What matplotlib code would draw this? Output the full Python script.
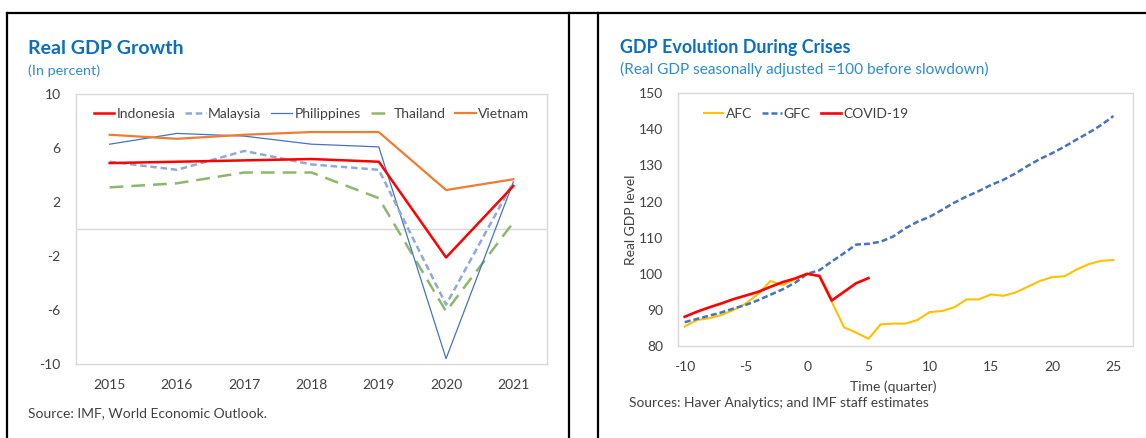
import matplotlib
matplotlib.use("Agg")
import matplotlib.pyplot as plt
from matplotlib.lines import Line2D

# ---------------- data ----------------
years = ["2015", "2016", "2017", "2018", "2019", "2020", "2021"]
indonesia = [4.9, 5.0, 5.1, 5.2, 5.0, -2.1, 3.2]
malaysia = [5.0, 4.4, 5.8, 4.8, 4.4, -5.6, 3.5]
philippines = [6.3, 7.1, 6.9, 6.3, 6.1, -9.6, 3.5]
thailand = [3.1, 3.4, 4.2, 4.2, 2.3, -6.1, 0.5]
vietnam = [7.0, 6.7, 7.0, 7.2, 7.2, 2.9, 3.7]
left_yticks = [-10, -6, -2, 2, 6, 10]

quarters = list(range(-10, 26))
afc = [85.4, 87.2, 87.7, 88.6, 90.0, 91.8, 94.4, 98.0, 96.9, 98.5, 100.0,
       99.3, 92.3, 85.2, 83.7, 82.0, 86.0, 86.2, 86.2, 87.2, 89.4, 89.7,
       90.7, 92.9, 92.9, 94.3, 93.9, 94.8, 96.4, 98.0, 99.1, 99.3, 101.2,
       102.7, 103.6, 103.8]
gfc = [86.6, 87.5, 88.4, 89.3, 90.4, 91.4, 92.7, 94.2, 95.7, 97.5, 100.0,
       101.0, 103.4, 105.7, 108.1, 108.3, 108.9, 110.3, 112.6, 114.4, 115.8,
       117.7, 119.7, 121.4, 122.9, 124.6, 126.0, 127.8, 129.9, 131.8, 133.4,
       135.2, 137.2, 139.1, 141.2, 143.7]
covid_q = list(range(-10, 6))
covid = [88.1, 89.5, 90.7, 91.8, 93.0, 94.0, 95.0, 96.4, 97.7, 98.7, 100.0,
         99.4, 92.6, 95.0, 97.4, 98.8]
right_xticks = [-10, -5, 0, 5, 10, 15, 20, 25]
right_yticks = [80, 90, 100, 110, 120, 130, 140, 150]

# ---------------- styling ----------------
FONT = "Lato"
plt.rcParams["font.family"] = [FONT, "DejaVu Sans"]
W, H = 1146, 438
fig = plt.figure(figsize=(W / 100, H / 100), dpi=100)

TITLE_C = "#0B6EBF"
SUB_C = "#2E8BD3"
TICK_C = "#404040"
GRID_C = "#D9D9D9"
FS = 10


def fx(px):
    return px / W


def fy(py):
    return 1 - py / H


def axes_px(l, t, r, b):
    return fig.add_axes([fx(l), fy(b), (r - l) / W, (b - t) / H])


# frame lines
for x in (7, 569, 598):
    fig.add_artist(Line2D([fx(x), fx(x)], [fy(12.5), 0], color="black", lw=1.6))
fig.add_artist(Line2D([fx(6.5), 1], [fy(12.5), fy(12.5)], color="black", lw=1.6))

# ---------------- left chart ----------------
ax1 = axes_px(76, 94.3, 547, 364)
xs = range(len(years))
ax1.axhline(0, color=GRID_C, lw=1.0, zorder=1)
ax1.plot(xs, indonesia, color="#FF0000", lw=1.8, label="Indonesia", zorder=5)
ax1.plot(xs, malaysia, color="#8EAADB", lw=1.8, ls=(0, (2.6, 1.5)), label="Malaysia", zorder=4)
ax1.plot(xs, philippines, color="#4472C4", lw=0.9, label="Philippines", zorder=3)
ax1.plot(xs, thailand, color="#8DB86A", lw=1.8, ls=(0, (5.5, 3.2)), label="Thailand", zorder=2)
ax1.plot(xs, vietnam, color="#ED7D31", lw=1.6, label="Vietnam", zorder=3)
ax1.set_xlim(-0.5, len(years) - 0.5)
ax1.set_ylim(-10, 10)
ax1.set_yticks(left_yticks)
ax1.set_yticklabels([str(v) for v in left_yticks])
ax1.set_xticks(list(xs))
ax1.set_xticklabels(years)
ax1.tick_params(length=0, labelsize=FS, colors=TICK_C)
ax1.tick_params(axis="y", pad=11)
ax1.tick_params(axis="x", pad=11)
for s in ax1.spines.values():
    s.set_color(GRID_C)
    s.set_linewidth(1.0)
ax1.legend(ncol=5, loc="upper center", bbox_to_anchor=(0.5, 1.0), frameon=False,
           fontsize=FS, handlelength=1.5, handletextpad=0.15, columnspacing=0.72,
           labelcolor=TICK_C, borderaxespad=0.6)

fig.text(fx(28), fy(48), "Real GDP Growth", color=TITLE_C, fontsize=14, fontweight="bold",
         va="center", ha="left")
fig.text(fx(28), fy(71), "(In percent)", color=SUB_C, fontsize=10.4, va="center", ha="left")
fig.text(fx(28), fy(413), "Source: IMF, World Economic Outlook.", color=TICK_C, fontsize=10,
         va="center", ha="left")

# ---------------- right chart ----------------
ax2 = axes_px(678, 93.3, 1133, 346)
ax2.plot(quarters, afc, color="#FFC000", lw=1.5, label="AFC", zorder=2)
ax2.plot(quarters, gfc, color="#4472C4", lw=1.8, ls=(0, (2.4, 1.2)), label="GFC", zorder=3)
ax2.plot(covid_q, covid, color="#FF0000", lw=1.9, label="COVID-19", zorder=4)
ax2.set_xlim(-10.55, 26.6)
ax2.set_ylim(80, 150)
ax2.set_xticks(right_xticks)
ax2.set_xticklabels([str(v) for v in right_xticks])
ax2.set_yticks(right_yticks)
ax2.set_yticklabels([str(v) for v in right_yticks])
ax2.tick_params(length=0, labelsize=FS, colors=TICK_C)
ax2.tick_params(axis="y", pad=10.5)
ax2.tick_params(axis="x", pad=11)
for s in ax2.spines.values():
    s.set_color(GRID_C)
    s.set_linewidth(1.0)
ax2.legend(ncol=3, loc="upper left", bbox_to_anchor=(0.025, 1.0), frameon=False,
           fontsize=FS, handlelength=1.4, handletextpad=0.15, columnspacing=0.75,
           labelcolor=TICK_C, borderaxespad=0.65)

fig.text(fx(620), fy(47), "GDP Evolution During Crises", color=TITLE_C, fontsize=12.9,
         fontweight="bold", va="center", ha="left")
fig.text(fx(620), fy(69), "(Real GDP seasonally adjusted =100 before slowdown)", color=SUB_C,
         fontsize=11.1, va="center", ha="left")
fig.text(fx(893), fy(387), "Time (quarter)", color=TICK_C, fontsize=FS, va="center", ha="center")
fig.text(fx(631), fy(220), "Real GDP level", color=TICK_C, fontsize=FS, va="center",
         ha="center", rotation=90)
fig.text(fx(629), fy(403), "Sources: Haver Analytics; and IMF staff estimates", color=TICK_C,
         fontsize=9.9, va="center", ha="left")

fig.savefig("out.png", dpi=100)
